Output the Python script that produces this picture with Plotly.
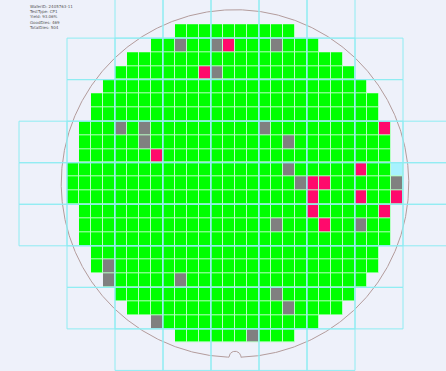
import numpy as np
import plotly.graph_objects as go

# ---- wafer / die geometry (mm) ----
WAFER_R = 75.3
DIE_W = 5.2
DIE_H = 6.0
N_COLS = 28
N_ROWS = 23
RET_COLS = 4          # dies per reticle shot, horizontally
RET_ROWS = 3          # dies per reticle shot, vertically
RET_ROW_OFFSET = 1    # first full reticle row boundary
NOTCH_R = 2.6

# ---- die map: first / last populated column of every row ----
row_first = [9, 7, 5, 4, 3, 2, 2, 1, 1, 1, 0, 0, 0, 1, 1, 1, 2, 2, 3, 4, 5, 7, 9]
row_last = [18, 20, 22, 23, 24, 25, 25, 26, 26, 26, 27, 27, 27, 26, 26, 26, 25, 25, 24, 23, 22, 20, 18]

# failing dies as (column, row)
gray_dies = [(9, 1), (12, 1), (17, 1), (12, 3), (4, 7), (6, 7), (16, 7), (6, 8), (18, 8),
             (18, 10), (19, 11), (27, 11), (17, 14), (24, 14), (3, 17), (3, 18), (9, 18),
             (17, 19), (18, 20), (7, 21), (15, 22)]
pink_dies = [(13, 1), (11, 3), (26, 7), (7, 9), (24, 10), (20, 11), (21, 11), (20, 12),
             (24, 12), (27, 12), (20, 13), (26, 13), (21, 14)]
cyan_dies = [(27, 10)]

BIN_COLORS = ["#00ff00", "#808080", "#ff0a6c", "#a8f2ff"]
STREET_COLOR = "#b8ffc4"   # scribe street between dies
RETICLE_COLOR = "#8eecf2"
EDGE_COLOR = "#b39c9c"
BG_COLOR = "#eef1fa"

# ---- build bin matrix ----
z = np.full((N_ROWS, N_COLS), np.nan)
for r in range(N_ROWS):
    z[r, row_first[r]:row_last[r] + 1] = 0
for code, dies in ((1, gray_dies), (2, pink_dies), (3, cyan_dies)):
    for c, r in dies:
        z[r, c] = code

total = int(np.sum(~np.isnan(z)))
good = int(np.sum(z == 0))

x_cent = [(c - N_COLS / 2 + 0.5) * DIE_W for c in range(N_COLS)]
y_cent = [(N_ROWS / 2 - r - 0.5) * DIE_H for r in range(N_ROWS)]

scale = []
n = len(BIN_COLORS)
for i, col in enumerate(BIN_COLORS):
    scale.append([i / n, col])
    scale.append([(i + 1) / n, col])

fig = go.Figure()
# street layer under the dies
street = np.where(np.isnan(z), np.nan, 0.0)
fig.add_trace(go.Heatmap(
    x=x_cent, y=y_cent, z=street,
    colorscale=[[0, STREET_COLOR], [1, STREET_COLOR]],
    showscale=False, hoverinfo="skip",
))
fig.add_trace(go.Heatmap(
    x=x_cent, y=y_cent, z=z,
    colorscale=scale, zmin=-0.5, zmax=n - 0.5,
    showscale=False, xgap=1, ygap=1, hoverinfo="skip",
))

# ---- reticle shot outlines that touch the wafer ----
x_left = -N_COLS / 2 * DIE_W
y_top = N_ROWS / 2 * DIE_H
ret_w = RET_COLS * DIE_W
ret_h = RET_ROWS * DIE_H
for k in range(-1, N_COLS // RET_COLS + 1):
    x0 = x_left + k * ret_w
    x1 = x0 + ret_w
    for m in range(-1, N_ROWS // RET_ROWS + 1):
        y1 = y_top - (RET_ROW_OFFSET + m * RET_ROWS) * DIE_H
        y0 = y1 - ret_h
        nx = min(max(0.0, x0), x1)
        ny = min(max(0.0, y0), y1)
        if nx * nx + ny * ny < WAFER_R ** 2:
            fig.add_shape(type="rect", x0=x0, x1=x1, y0=y0, y1=y1,
                          line=dict(color=RETICLE_COLOR, width=1), layer="above")

# ---- wafer outline with bottom notch ----
t = np.linspace(-np.pi / 2, 3 * np.pi / 2, 721)
half = np.arcsin(NOTCH_R / WAFER_R)
keep = (t + np.pi / 2 > half) & (3 * np.pi / 2 - t > half)
edge_x = list(WAFER_R * np.cos(t[keep]))
edge_y = list(WAFER_R * np.sin(t[keep]))
s = np.linspace(0, np.pi, 40)
notch_x = list(-NOTCH_R * np.cos(s))
notch_y = list(-WAFER_R + NOTCH_R * np.sin(s))
outline_x = edge_x + notch_x + [edge_x[0]]
outline_y = edge_y + notch_y + [edge_y[0]]
fig.add_trace(go.Scatter(x=outline_x, y=outline_y, mode="lines",
                         line=dict(color=EDGE_COLOR, width=1), hoverinfo="skip",
                         showlegend=False))

info = [
    "WaferID: 2405763-11",
    "TestType: CP1",
    f"Yield: {100 * good / total:.2f}%",
    f"GoodDies: {good}",
    f"TotalDies: {total}",
]
fig.add_annotation(xref="paper", yref="paper", x=27 / 446, y=1 - 2 / 371,
                   xanchor="left", yanchor="top", align="left", showarrow=False,
                   text="<br>".join(info), font=dict(size=4, color="#555555",
                                                     family="DejaVu Sans"))

PX_PER_MM = 12.0 / DIE_W
cx, cy = 235.0, 183.5
fig.update_layout(
    width=446, height=371, margin=dict(l=0, r=0, t=0, b=0),
    paper_bgcolor=BG_COLOR, plot_bgcolor=BG_COLOR, showlegend=False,
    xaxis=dict(visible=False, range=[-cx / PX_PER_MM, (446 - cx) / PX_PER_MM]),
    yaxis=dict(visible=False, range=[-(371 - cy) / PX_PER_MM, cy / PX_PER_MM]),
)
fig.write_html("out.html")
